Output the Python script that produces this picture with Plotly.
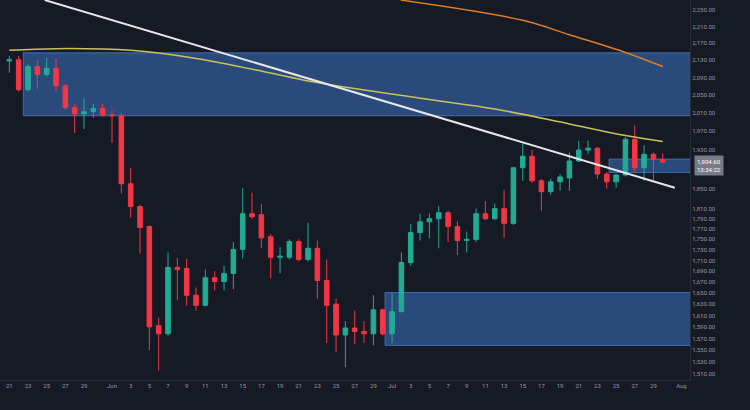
import math
import pandas as pd
import plotly.graph_objects as go

# daily candles, 2023-05-21 .. 2023-07-30
start_date = "2023-05-21"
opens = [2128, 2131, 2062, 2115, 2097, 2111, 2071, 2022, 2008, 2013, 2020, 2006, 2004, 1860, 1814, 1775,
         1592, 1578, 1697, 1695, 1646, 1628, 1678, 1671, 1686, 1731, 1800, 1798, 1755, 1716, 1716, 1746,
         1712, 1733, 1673, 1630, 1576, 1588, 1582, 1578, 1620, 1578, 1617, 1706, 1763, 1784, 1790, 1802,
         1775, 1748, 1750, 1800, 1790, 1810, 1781, 1893, 1917, 1866, 1844, 1864, 1872, 1907, 1930, 1934,
         1880, 1864, 1878, 1953, 1893, 1921, 1910]
highs = [2140, 2140, 2120, 2130, 2135, 2135, 2075, 2030, 2043, 2030, 2030, 2015, 2010, 1893, 1818, 1777,
         1606, 1725, 1715, 1713, 1660, 1693, 1690, 1700, 1745, 1851, 1842, 1820, 1760, 1735, 1750, 1750,
         1782, 1748, 1712, 1640, 1600, 1619, 1600, 1646, 1622, 1650, 1725, 1780, 1800, 1800, 1815, 1806,
         1785, 1765, 1810, 1825, 1820, 1848, 1895, 1944, 1930, 1870, 1870, 1880, 1925, 1950, 1950, 1937,
         1884, 1880, 1958, 1983, 1940, 1925, 1923]
lows = [2101, 2058, 2058, 2064, 2092, 2058, 2018, 1967, 1975, 2000, 2002, 1945, 1840, 1792, 1723, 1550,
        1516, 1575, 1637, 1627, 1618, 1626, 1655, 1655, 1657, 1714, 1790, 1733, 1677, 1686, 1712, 1708,
        1708, 1640, 1562, 1547, 1521, 1560, 1562, 1558, 1575, 1562, 1615, 1700, 1748, 1752, 1733, 1745,
        1720, 1725, 1745, 1788, 1788, 1753, 1778, 1866, 1862, 1806, 1838, 1846, 1846, 1905, 1922, 1870,
        1850, 1852, 1875, 1883, 1866, 1866, 1903]
closes = [2131, 2062, 2115, 2097, 2111, 2071, 2022, 2008, 2013, 2020, 2006, 2004, 1860, 1814, 1773, 1590,
          1578, 1697, 1693, 1646, 1628, 1678, 1671, 1686, 1731, 1800, 1794, 1753, 1716, 1718, 1746, 1712,
          1733, 1673, 1628, 1576, 1588, 1582, 1578, 1620, 1578, 1617, 1706, 1763, 1784, 1790, 1802, 1775,
          1748, 1750, 1800, 1790, 1810, 1781, 1893, 1917, 1866, 1844, 1864, 1874, 1907, 1930, 1934, 1880,
          1864, 1878, 1953, 1893, 1921, 1910, 1905]

# moving averages read at a few days
ma_yellow_dates = ["2023-05-21", "2023-05-26", "2023-06-03", "2023-06-10", "2023-06-18", "2023-06-22",
                   "2023-07-04", "2023-07-12", "2023-07-20", "2023-07-26", "2023-07-30"]
ma_yellow = [2153, 2157, 2153, 2134, 2100, 2082, 2043, 2019, 1986, 1961, 1948]
ma_orange_dates = ["2023-07-01 22:00", "2023-07-15", "2023-07-20", "2023-07-26", "2023-07-30"]
ma_orange = [2275, 2225, 2190, 2148, 2115]

trend_dates = ["2023-05-24 19:00", "2023-07-31 07:00"]
trend_prices = [2275, 1852]

# zones: (x0, price top, price bottom)
zones = [("2023-05-22 12:00", 2147, 2004), ("2023-06-30 06:00", 1651, 1558), ("2023-07-24 06:00", 1911, 1883)]

last_price = 1898

y_ticks = [2250, 2210, 2170, 2130, 2090, 2050, 2010, 1970, 1930, 1850, 1810, 1790, 1770, 1750, 1730,
           1710, 1690, 1670, 1650, 1630, 1610, 1590, 1570, 1550, 1530, 1510, 1490]

x_ticks = (list(pd.date_range("2023-05-21", "2023-05-29", freq="2D")) + [pd.Timestamp("2023-06-01")]
           + list(pd.date_range("2023-06-03", "2023-06-29", freq="2D")) + [pd.Timestamp("2023-07-01")]
           + list(pd.date_range("2023-07-03", "2023-07-29", freq="2D")) + [pd.Timestamp("2023-08-01"),
                                                                         pd.Timestamp("2023-08-03")])
x_text = [d.strftime("%b") if d.day == 1 else str(d.day) for d in x_ticks]

dates = pd.date_range(start_date, periods=len(opens), freq="D")

fig = go.Figure()
for x0, top, bot in zones:
    fig.add_shape(type="rect", x0=x0, x1="2023-08-04", y0=bot, y1=top, xref="x", yref="y",
                  fillcolor="rgba(56,100,170,0.65)", line=dict(color="rgba(70,120,200,0.8)", width=1),
                  layer="below")

fig.add_trace(go.Candlestick(
    x=dates, open=opens, high=highs, low=lows, close=closes,
    increasing=dict(line=dict(color="#22ab94", width=1), fillcolor="#22ab94"),
    decreasing=dict(line=dict(color="#f23645", width=1), fillcolor="#f23645"),
    whiskerwidth=0, showlegend=False))

fig.add_trace(go.Scatter(x=ma_yellow_dates, y=ma_yellow, mode="lines",
                         line=dict(color="#c9c25a", width=1.5, shape="spline"), showlegend=False))
fig.add_trace(go.Scatter(x=ma_orange_dates, y=ma_orange, mode="lines",
                         line=dict(color="#e07b2a", width=1.5, shape="spline"), showlegend=False))
fig.add_trace(go.Scatter(x=trend_dates, y=trend_prices, mode="lines",
                         line=dict(color="#e6e6e6", width=2), showlegend=False))

# annotations on a log axis take log10 positions
fig.add_annotation(x=1.0, xref="paper", xanchor="left", y=math.log10(last_price), yref="y",
                   text="1,904.60<br>13:34:22", showarrow=False, bgcolor="#787b86",
                   font=dict(size=6, color="#ffffff"), borderpad=2, xshift=4)

fig.update_layout(
    width=750, height=410,
    margin=dict(l=0, r=60, t=0, b=30),
    paper_bgcolor="#161a25", plot_bgcolor="#161a25",
    font=dict(family="Roboto", size=6, color="#9598a1"),
    xaxis=dict(type="date", range=["2023-05-20", "2023-08-01 22:00"], rangeslider=dict(visible=False),
               tickvals=x_ticks, ticktext=x_text, showgrid=False, zeroline=False,
               showline=True, linecolor="#2a2e39", ticks=""),
    yaxis=dict(type="log", side="right", range=[3.1761, 3.357], tickvals=y_ticks,
               ticktext=[f"{v:,.2f}" for v in y_ticks], showgrid=False, zeroline=False,
               showline=True, linecolor="#2a2e39", ticks=""),
)

fig.write_html("out.html", config={"displayModeBar": False},
               post_script="document.body.style.margin='0';document.body.style.background='#161a25';")
